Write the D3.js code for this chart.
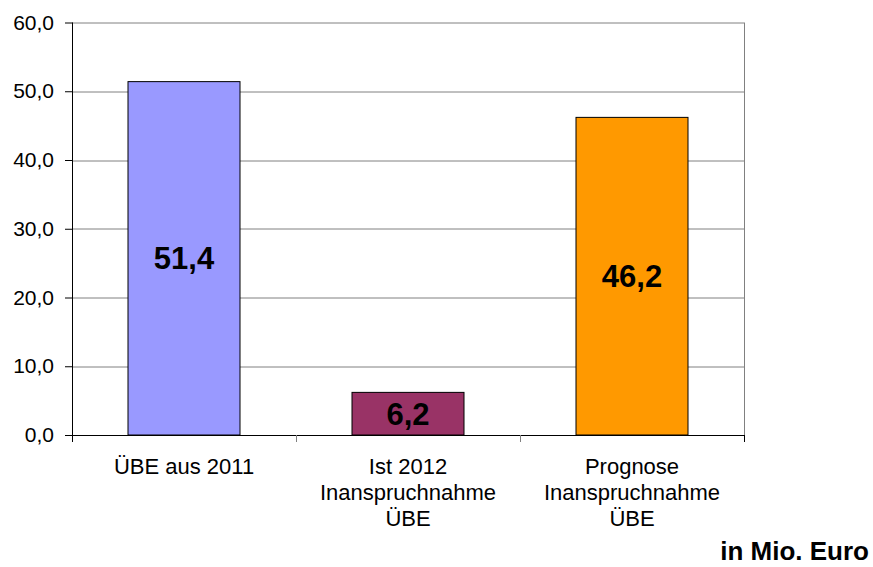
<!DOCTYPE html>
<html>
<head>
<meta charset="utf-8">
<script src="https://cdn.jsdelivr.net/npm/d3@7"></script>
<style>
  body { margin: 0; background: #fff; }
  svg { display: block; font-family: Arial, "Liberation Sans", sans-serif; }
</style>
</head>
<body>
<div id="chart"></div>
<script>
var categories = [
  ["ÜBE aus 2011"],
  ["Ist 2012", "Inanspruchnahme", "ÜBE"],
  ["Prognose", "Inanspruchnahme", "ÜBE"]
];
var values = [51.4, 6.2, 46.2];
var labels = ["51,4", "6,2", "46,2"];
var colors = ["#9999FF", "#993366", "#FF9900"];
var yTicks = [0, 10, 20, 30, 40, 50, 60];
var unitText = "in Mio. Euro";

var width = 873, height = 567;
var margin = {top: 22.5, right: 129, bottom: 132, left: 72};
var chartW = width - margin.left - margin.right,
  chartH = height - margin.top - margin.bottom;

var svg = d3.select("#chart").append("svg")
  .attr("width", width)
  .attr("height", height);

var g = svg.append("g")
  .attr("transform", "translate(" + margin.left + "," + margin.top + ")");

var x = d3.scaleBand()
  .domain(d3.range(values.length))
  .range([0, chartW])
  .paddingInner(0.5)
  .paddingOuter(0.25);

var y = d3.scaleLinear()
  .domain([0, 60])
  .range([chartH, 0]);

// gridlines
g.append("g").selectAll("line")
  .data(yTicks.slice(1))
  .enter().append("line")
  .attr("x1", 0).attr("x2", chartW)
  .attr("y1", function(d) { return Math.round(y(d)) + 0.5; })
  .attr("y2", function(d) { return Math.round(y(d)) + 0.5; })
  .attr("stroke", "#808080")
  .attr("stroke-width", 1);

// right border of plot area
g.append("line")
  .attr("x1", chartW + 0.5).attr("x2", chartW + 0.5)
  .attr("y1", y(60)).attr("y2", chartH)
  .attr("stroke", "#808080");

// bars
g.selectAll(".bar")
  .data(values)
  .enter().append("rect")
  .attr("class", "bar")
  .attr("x", function(d, i) { return x(i); })
  .attr("y", function(d) { return y(d); })
  .attr("width", x.bandwidth())
  .attr("height", function(d) { return chartH - y(d); })
  .attr("fill", function(d, i) { return colors[i]; })
  .attr("stroke", "#000")
  .attr("stroke-width", 1);

// value labels
g.selectAll(".val")
  .data(values)
  .enter().append("text")
  .attr("class", "val")
  .attr("x", function(d, i) { return x(i) + x.bandwidth() / 2; })
  .attr("y", function(d) { return (y(d) + chartH) / 2; })
  .attr("dy", "0.36em")
  .attr("text-anchor", "middle")
  .attr("font-size", 31)
  .attr("font-weight", "bold")
  .attr("fill", "#000")
  .text(function(d, i) { return labels[i]; });

// y axis
var yAxis = d3.axisLeft(y)
  .tickValues(yTicks)
  .tickSize(7)
  .tickPadding(11)
  .tickFormat(function(d) { return d3.format(".1f")(d).replace(".", ","); });

var yg = g.append("g").call(yAxis);
yg.select(".domain").attr("stroke", "#000").attr("d", "M0.5," + y(60) + "V" + (chartH + 6));
yg.selectAll(".tick line").attr("stroke", "#000").attr("x1", 0.5);
yg.selectAll(".tick text").attr("font-size", 21).attr("fill", "#000")
  .attr("font-family", "Arial, 'Liberation Sans', sans-serif");

// x axis
var xg = g.append("g").attr("transform", "translate(0," + chartH + ")");
xg.append("line")
  .attr("x1", 0).attr("x2", chartW)
  .attr("y1", 0.5).attr("y2", 0.5)
  .attr("stroke", "#000");
var step = x.step();
xg.selectAll(".xtick")
  .data(d3.range(values.length + 1))
  .enter().append("line")
  .attr("x1", function(d) { return Math.round(d * step) + 0.5; })
  .attr("x2", function(d) { return Math.round(d * step) + 0.5; })
  .attr("y1", 0).attr("y2", 7)
  .attr("stroke", function(d) { return d === 0 || d === values.length ? "#000" : "#808080"; });

var catText = xg.selectAll(".cat")
  .data(categories)
  .enter().append("text")
  .attr("class", "cat")
  .attr("text-anchor", "middle")
  .attr("font-size", 22)
  .attr("fill", "#000")
  .attr("x", function(d, i) { return x(i) + x.bandwidth() / 2; })
  .attr("y", 39);
catText.selectAll("tspan")
  .data(function(d) { return d; })
  .enter().append("tspan")
  .attr("x", function() { return d3.select(this.parentNode).attr("x"); })
  .attr("dy", function(d, i) { return i === 0 ? 0 : 26; })
  .text(function(d) { return d; });

// unit label
svg.append("text")
  .attr("x", 869)
  .attr("y", 560)
  .attr("text-anchor", "end")
  .attr("font-size", 26)
  .attr("font-weight", "bold")
  .attr("fill", "#000")
  .text(unitText);
</script>
</body>
</html>
